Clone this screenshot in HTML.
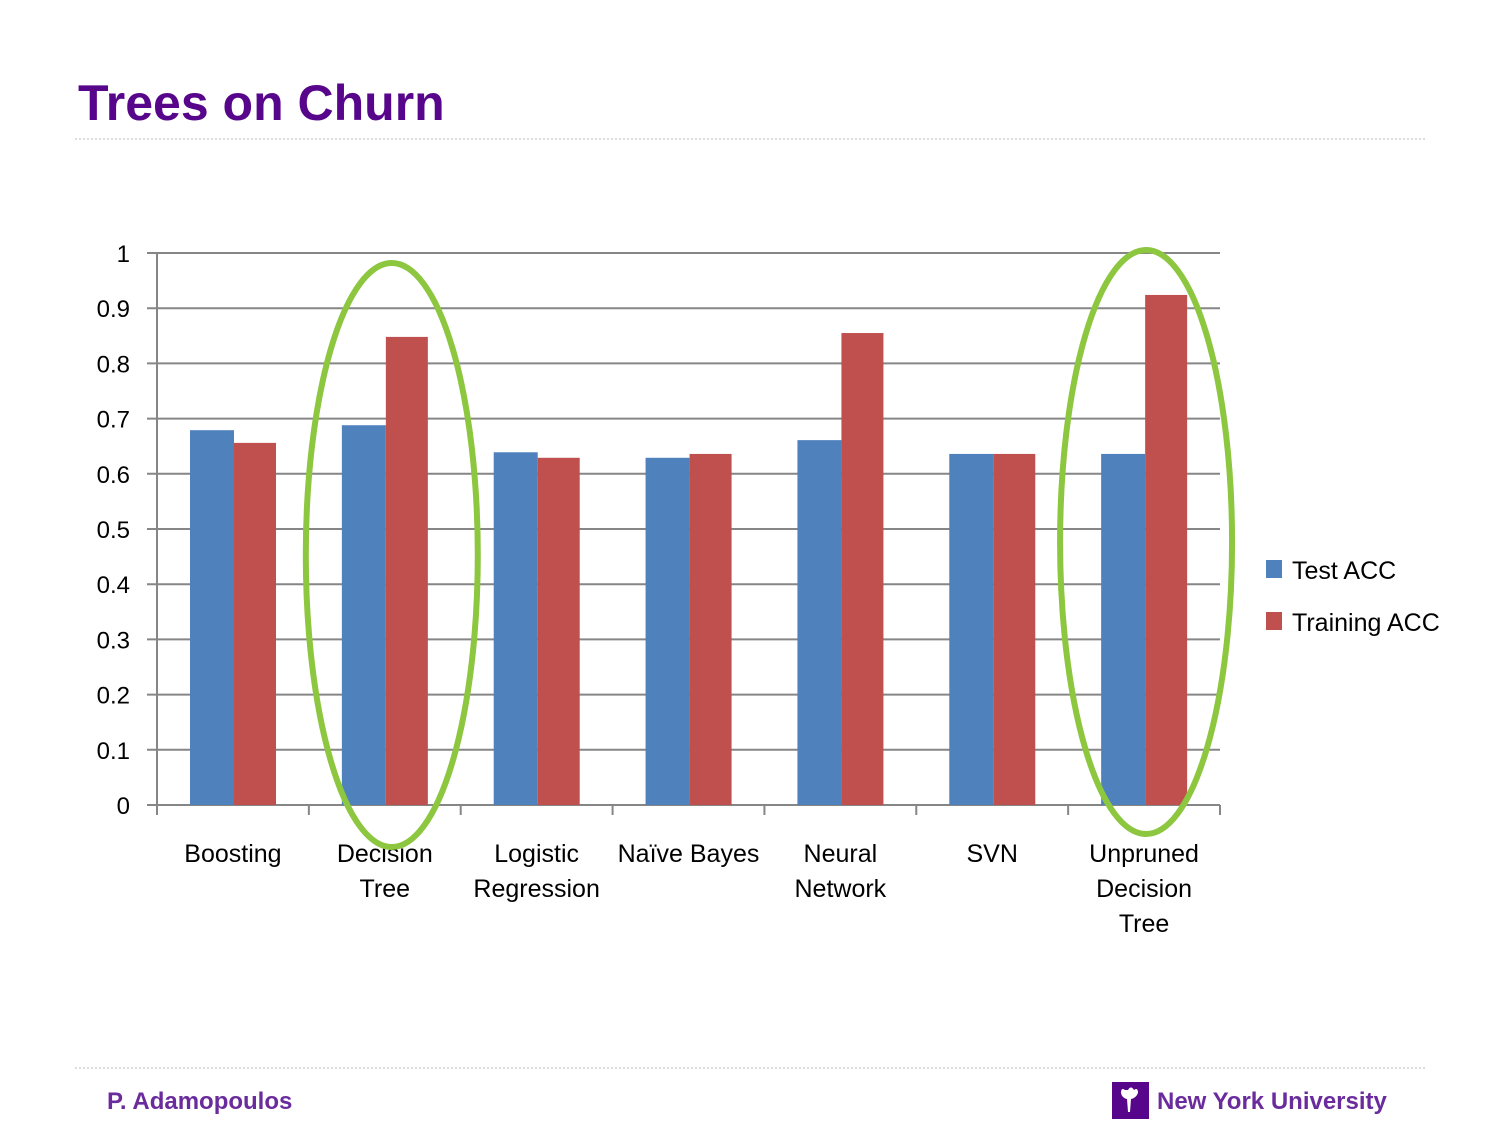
<!DOCTYPE html>
<html><head><meta charset="utf-8"><style>
body{margin:0;width:1500px;height:1125px;background:#fff;overflow:hidden;font-family:"Liberation Sans",sans-serif;}
</style></head><body>
<svg width="1500" height="1125" xmlns="http://www.w3.org/2000/svg">
<text x="78" y="120" font-family="Liberation Sans, sans-serif" font-weight="bold" font-size="50" fill="#57068c">Trees on Churn</text>
<line x1="75" y1="139" x2="1425" y2="139" stroke="#bbb" stroke-width="1" stroke-dasharray="2,2"/>
<g id="chart"></g>
<line x1="75" y1="1068" x2="1425" y2="1068" stroke="#bbb" stroke-width="1" stroke-dasharray="2,2"/>
<text x="107" y="1109" font-size="24" font-weight="bold" fill="#6a2c9c" font-family="Liberation Sans, sans-serif">P. Adamopoulos</text>
<g>
<rect x="1112" y="1082" width="37" height="37" fill="#57068c"/>
<path d="M1128 1090 q3 -5 6 0 q4 -3 4 3 q-2 5 -7 6 l-1 13 h-2 l-1 -13 q-5 -1 -6 -6 q0 -6 4 -3z" fill="#fff"/>
</g>
<text x="1157" y="1109" font-size="24" font-weight="bold" fill="#6a2c9c" font-family="Liberation Sans, sans-serif">New York University</text>
</svg>
<script>
const categories=[["Boosting"],["Decision","Tree"],["Logistic","Regression"],["Naïve Bayes"],["Neural","Network"],["SVN"],["Unpruned","Decision","Tree"]];
const testAcc=[0.679,0.688,0.639,0.629,0.661,0.636,0.636];
const trainAcc=[0.656,0.848,0.629,0.636,0.855,0.636,0.924];
const yTicks=["0","0.1","0.2","0.3","0.4","0.5","0.6","0.7","0.8","0.9","1"];
const highlighted=[1,6];
const NS="http://www.w3.org/2000/svg";
const g=document.getElementById("chart");
const x0=157,x1=1220,y0=805,y1=253;
const cw=(x1-x0)/categories.length;
const yS=v=>y0-(v)*(y0-y1);
const xS=i=>x0+i*cw;
function mk(t,a,p){const e=document.createElementNS(NS,t);for(const k in a)e.setAttribute(k,a[k]);(p||g).appendChild(e);return e;}
yTicks.forEach((t,i)=>{const v=i/10,y=yS(v);
const l=mk("line",{x1:147,x2:x1,y1:y,y2:y,stroke:"#868686","stroke-width":2});


const tx=mk("text",{x:130,y:y+9,"text-anchor":"end","font-size":24,fill:"#000"});tx.textContent=t;


});
const ax=mk("line",{x1:x0,x2:x0,y1:y1,y2:y0+10,stroke:"#868686","stroke-width":2});


for(let i=0;i<=categories.length;i++){const t=mk("line",{x1:xS(i),x2:xS(i),y1:y0,y2:y0+10,stroke:"#868686","stroke-width":2});

}
categories.forEach((c,i)=>{
const bx=xS(i)+33;
const b=mk("rect",{x:bx,y:yS(testAcc[i]),width:44,height:y0-yS(testAcc[i]),fill:"#4f81bd"});


const r=mk("rect",{x:bx+44,y:yS(trainAcc[i]),width:42,height:y0-yS(trainAcc[i]),fill:"#c0504d"});


c.forEach((line,j)=>{const t=mk("text",{x:xS(i)+cw/2,y:862+j*35,"text-anchor":"middle","font-size":25,fill:"#000"});t.textContent=line;

});
});
highlighted.forEach(i=>{
const e=mk("ellipse",{cx:xS(i)+cw/2+(i===1?7:2),cy:555-(i===6?13:0),rx:86,ry:292,fill:"none",stroke:"#8dc63f","stroke-width":6});


});
[["Test ACC","#4f81bd",571],["Training ACC","#c0504d",623]].forEach(([n,c,y])=>{
const s=mk("rect",{x:1266,y:y-11,width:16,height:18,fill:c});


const t=mk("text",{x:1292,y:y+8,"font-size":25,fill:"#000"});t.textContent=n;


});
</script>
</body></html>
